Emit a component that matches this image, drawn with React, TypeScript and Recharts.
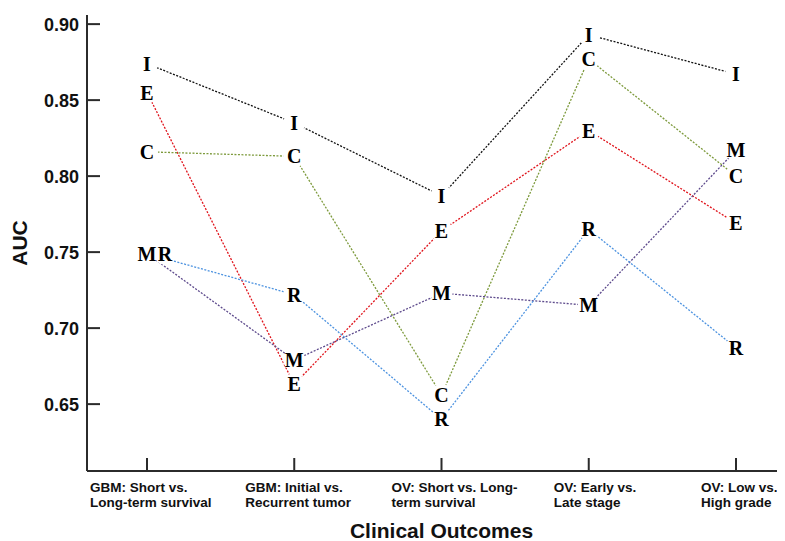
import { Line, LineChart, XAxis, YAxis } from 'recharts';

const outcomes = ['GBM-S', 'GBM-I', 'OV-S', 'OV-E', 'OV-L'];
const outcomeLine1 = ['GBM: Short vs.', 'GBM: Initial vs.', 'OV: Short vs. Long-', 'OV: Early vs.', 'OV: Low vs.'];
const outcomeLine2 = ['Long-term survival', 'Recurrent tumor', 'term survival', 'Late stage', 'High grade'];

const aucI = [0.874, 0.835, 0.787, 0.893, 0.867];
const aucE = [0.855, 0.663, 0.764, 0.83, 0.769];
const aucC = [0.816, 0.813, 0.656, 0.877, 0.8];
const aucM = [0.749, 0.679, 0.723, 0.715, 0.817];
const aucR = [0.749, 0.722, 0.64, 0.765, 0.687];

const yTicks = [0.65, 0.7, 0.75, 0.8, 0.85, 0.9];

const series = [
  { key: 'I', values: aucI, color: '#111111' },
  { key: 'E', values: aucE, color: '#e0141c' },
  { key: 'C', values: aucC, color: '#7d9a3c' },
  { key: 'M', values: aucM, color: '#5d4a8c' },
  { key: 'R', values: aucR, color: '#4d93e0' }
];

const data = outcomes.map((name, i) => {
  const row: Record<string, string | number> = { name };
  series.forEach((s) => {
    row[s.key] = s.values[i];
  });
  return row;
});

// letters that sit on the same value as an earlier series get pushed right
const letterShift = (key: string, index: number) => {
  const pos = series.findIndex((s) => s.key === key);
  const v = series[pos].values[index];
  let n = 0;
  for (let j = 0; j < pos; j++) {
    if (Math.abs(series[j].values[index] - v) < 0.003) n++;
  }
  return n * 18;
};

const sans = '"Liberation Sans", Arial, sans-serif';
const serif = '"Liberation Serif", "Times New Roman", serif';
const axisColor = '#2b2b2b';

const labelShift = [-57, -49, -50, -35, -35];

const OutcomeTick = (props: any) => {
  const { x, y, index } = props;
  return (
    <g>
      <text x={x + labelShift[index]} y={y + 20.7} fontFamily={sans} fontSize={13.5} fontWeight="bold" fill="#111">
        {outcomeLine1[index]}
      </text>
      <text x={x + labelShift[index]} y={y + 36.3} fontFamily={sans} fontSize={13.5} fontWeight="bold" fill="#111">
        {outcomeLine2[index]}
      </text>
    </g>
  );
};

// white disc under each letter so the dotted lines stop short of it
const gapDot = (key: string) => (props: any) => {
  const { cx, cy, index } = props;
  return <circle key={`g-${key}-${index}`} cx={cx + letterShift(key, index)} cy={cy} r={11} fill="#ffffff" stroke="none" />;
};

const letterDot = (key: string) => (props: any) => {
  const { cx, cy, index } = props;
  return (
    <text
      key={`t-${key}-${index}`}
      x={cx + letterShift(key, index)}
      y={cy + 7}
      textAnchor="middle"
      fontFamily={serif}
      fontSize={20}
      fontWeight="bold"
      fill="#000"
    >
      {key}
    </text>
  );
};

export default function App() {
  return (
    <div style={{ width: 776, height: 533, overflow: 'hidden' }}>
      <LineChart width={793} height={533} data={data} margin={{ top: 7, right: 5, left: 0, bottom: 0 }}>
        <XAxis
          dataKey="name"
          padding={{ left: 60, right: 60 }}
          height={70}
          tickSize={-13}
          tickMargin={13}
          tick={<OutcomeTick />}
          interval={0}
          axisLine={{ stroke: axisColor, strokeWidth: 2 }}
          tickLine={{ stroke: axisColor, strokeWidth: 2 }}
          label={{
            value: 'Clinical Outcomes',
            position: 'insideBottom',
            offset: 3,
            style: { fontFamily: sans, fontSize: 21, fontWeight: 'bold', fill: '#111' }
          }}
        />
        <XAxis
          xAxisId="top"
          dataKey="name"
          orientation="top"
          height={0}
          tick={false}
          tickLine={false}
          axisLine={{ stroke: axisColor, strokeWidth: 2 }}
        />
        <YAxis
          type="number"
          domain={[0.606, 0.906]}
          ticks={yTicks}
          width={79}
          tickSize={-13}
          tickMargin={21}
          tickFormatter={(v: number) => v.toFixed(2)}
          tick={{ fontFamily: sans, fontSize: 18, fontWeight: 'bold', fill: '#111' }}
          axisLine={{ stroke: axisColor, strokeWidth: 2 }}
          tickLine={{ stroke: axisColor, strokeWidth: 2 }}
          label={{
            value: 'AUC',
            angle: -90,
            position: 'insideLeft',
            offset: 12,
            style: { fontFamily: sans, fontSize: 21, fontWeight: 'bold', fill: '#111', textAnchor: 'middle' }
          }}
        />
        <YAxis
          yAxisId="right"
          orientation="right"
          type="number"
          domain={[0.606, 0.906]}
          ticks={yTicks}
          width={0}
          tickSize={-13}
          tick={false}
          axisLine={{ stroke: axisColor, strokeWidth: 2 }}
          tickLine={{ stroke: axisColor, strokeWidth: 2 }}
        />
        {series.map((s) => (
          <Line
            key={`line-${s.key}`}
            dataKey={s.key}
            stroke={s.color}
            strokeWidth={1.3}
            strokeDasharray="2 1.5"
            dot={false}
            activeDot={false}
            isAnimationActive={false}
          />
        ))}
        {series.map((s) => (
          <Line
            key={`gap-${s.key}`}
            dataKey={s.key}
            stroke="none"
            dot={gapDot(s.key)}
            activeDot={false}
            isAnimationActive={false}
          />
        ))}
        {series.map((s) => (
          <Line
            key={`letter-${s.key}`}
            dataKey={s.key}
            stroke="none"
            dot={letterDot(s.key)}
            activeDot={false}
            isAnimationActive={false}
          />
        ))}
      </LineChart>
    </div>
  );
}
